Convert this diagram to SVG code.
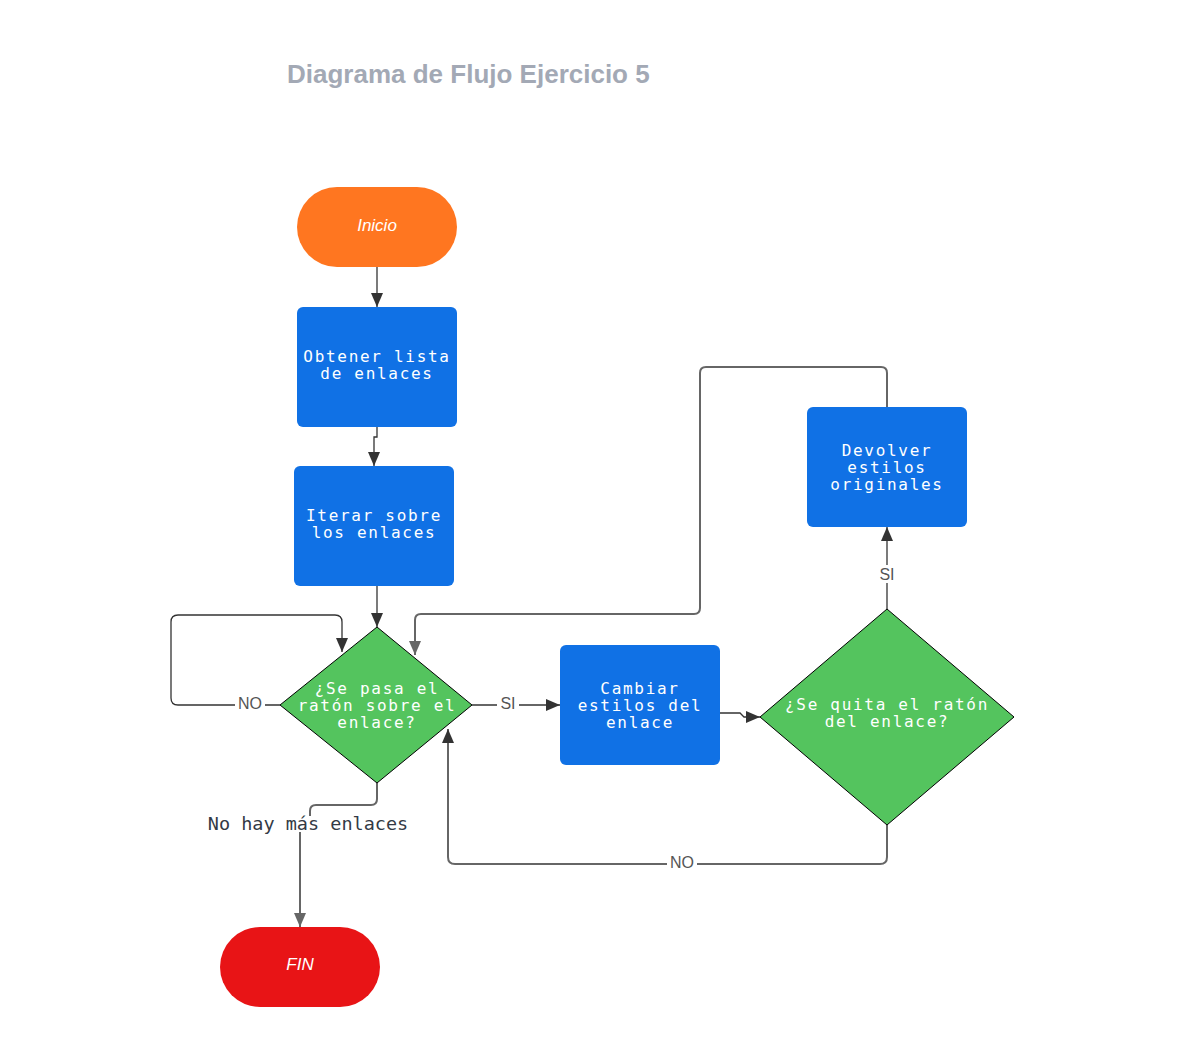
<svg xmlns="http://www.w3.org/2000/svg" width="1200" height="1047" viewBox="0 0 1200 1047">
<style>
.title{font-family:"Liberation Sans",Arial,sans-serif;font-weight:bold;font-size:26px;fill:#a3a9b5}
.term{font-family:"Liberation Sans",Arial,sans-serif;font-style:italic;font-size:17px;fill:#ffffff;text-anchor:middle}
.mono{font-family:"DejaVu Sans Mono","Liberation Mono",monospace;font-size:16px;fill:#ffffff;text-anchor:middle;letter-spacing:1.7px}
.lbl{font-family:"Liberation Sans",Arial,sans-serif;font-size:16px;fill:#555555;text-anchor:middle}
.mlbl{font-family:"DejaVu Sans Mono","Liberation Mono",monospace;font-size:18.5px;fill:#333a45;text-anchor:middle}
.proc{fill:#1071e5}
.dec{fill:#54c45e;stroke:#000;stroke-width:1;stroke-linejoin:round}
.c{fill:none;stroke:#333;stroke-width:1.3}
.g{fill:none;stroke:#666;stroke-width:2}
.bg{fill:#ffffff}
</style>
<defs>
<marker id="ah" viewBox="0 0 14 12" refX="14" refY="6" markerWidth="14" markerHeight="12" markerUnits="userSpaceOnUse" orient="auto">
<path d="M0,0 L14,6 L0,12 z" fill="#333"/>
</marker>
<marker id="ahg" viewBox="0 0 14 12" refX="14" refY="6" markerWidth="14" markerHeight="12" markerUnits="userSpaceOnUse" orient="auto">
<path d="M0,0 L14,6 L0,12 z" fill="#666"/>
</marker>
</defs>
<rect width="1200" height="1047" fill="#ffffff"/>
<text class="title" x="287" y="83">Diagrama de Flujo Ejercicio 5</text>

<g id="connectors">
<path class="c" d="M377,267 V307" marker-end="url(#ah)"/>
<path class="c" d="M377,427 V437 H374 V466" marker-end="url(#ah)"/>
<path class="c" d="M377,586 V627" marker-end="url(#ah)"/>
<path class="c" d="M280,705 H178 Q171,705 171,698 V622 Q171,615 178,615 H335 Q342,615 342,622 V652" marker-end="url(#ah)"/>
<rect class="bg" x="235" y="695" width="30" height="18"/>
<text class="lbl" x="250" y="709">NO</text>
<path class="c" d="M472,705 H560" stroke-width="2" marker-end="url(#ah)"/>
<rect class="bg" x="497" y="695" width="22" height="18"/>
<text class="lbl" x="508" y="709">SI</text>
<path class="c" d="M720,713 H740 L744,717 H760" marker-end="url(#ah)"/>
<path class="c" d="M887,609 V527" stroke-width="2" marker-end="url(#ah)"/>
<rect class="bg" x="876" y="565" width="22" height="18"/>
<text class="lbl" x="887" y="580">SI</text>
<path class="g" d="M887,407 V373 Q887,367 881,367 H706 Q700,367 700,373 V608 Q700,614 694,614 H421 Q415,614 415,620 V655" marker-end="url(#ahg)"/>
<path class="g" d="M887,825 V857 Q887,864 880,864 H455 Q448,864 448,857 V729" stroke-width="1.5" marker-end="url(#ah)"/>
<rect class="bg" x="667" y="853" width="30" height="18"/>
<text class="lbl" x="682" y="868">NO</text>
<path class="g" d="M377,783 V799 Q377,805 371,805 H316 Q310,805 310,811 V816"/>
<path class="g" d="M300,832 V927" marker-end="url(#ahg)"/>
<text class="mlbl" x="308" y="830">No hay más enlaces</text>
</g>

<g id="inicio">
<rect x="297" y="187" width="160" height="80" rx="40" fill="#ff7620"/>
<text class="term" x="377" y="231">Inicio</text>
</g>
<g id="obtener">
<rect class="proc" x="297" y="307" width="160" height="120" rx="6"/>
<text class="mono" x="377" y="362">Obtener lista</text>
<text class="mono" x="377" y="379">de enlaces</text>
</g>
<g id="iterar">
<rect class="proc" x="294" y="466" width="160" height="120" rx="6"/>
<text class="mono" x="374" y="521">Iterar sobre</text>
<text class="mono" x="374" y="538">los enlaces</text>
</g>
<g id="decision1">
<polygon class="dec" points="377,627 472,705 377,783 280,705"/>
<text class="mono" x="377" y="694">¿Se pasa el</text>
<text class="mono" x="377" y="711">ratón sobre el</text>
<text class="mono" x="377" y="728">enlace?</text>
</g>
<g id="cambiar">
<rect class="proc" x="560" y="645" width="160" height="120" rx="6"/>
<text class="mono" x="640" y="694">Cambiar</text>
<text class="mono" x="640" y="711">estilos del</text>
<text class="mono" x="640" y="728">enlace</text>
</g>
<g id="decision2">
<polygon class="dec" points="887,609 1014,717 887,825 760,717"/>
<text class="mono" x="887" y="710">¿Se quita el ratón</text>
<text class="mono" x="887" y="727">del enlace?</text>
</g>
<g id="devolver">
<rect class="proc" x="807" y="407" width="160" height="120" rx="6"/>
<text class="mono" x="887" y="456">Devolver</text>
<text class="mono" x="887" y="473">estilos</text>
<text class="mono" x="887" y="490">originales</text>
</g>
<g id="fin">
<rect x="220" y="927" width="160" height="80" rx="40" fill="#e81416"/>
<text class="term" x="300" y="970">FIN</text>
</g>
</svg>
